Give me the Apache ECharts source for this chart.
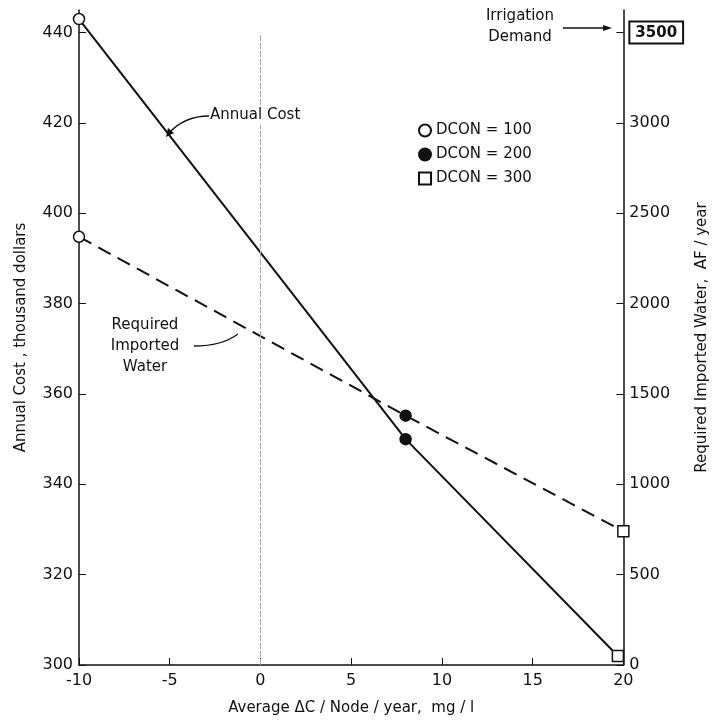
<!DOCTYPE html>
<html>
<head>
<meta charset="utf-8">
<script src="https://cdn.jsdelivr.net/npm/echarts@6/dist/echarts.min.js"></script>
<style>
  html, body { margin: 0; padding: 0; background: #fff; }
  #chart { width: 718px; height: 721px; }
</style>
</head>
<body>
<div id="chart"></div>
<script>
// values
const costX = [-10, 8, 19.7];
const annualCost = [443, 350, 302];        // thousand dollars
const waterX = [-10, 8, 20];
const importedWater = [2370, 1380, 740];   // AF / year
const dconNames = ['DCON = 100', 'DCON = 200', 'DCON = 300'];
const dconSymbols = ['circle', 'circle', 'rect'];
const dconFill = ['#fff', '#111', '#fff'];
const irrigationDemand = 3500;

const FONT = 'DejaVu Sans';
const INK = '#111';

const series = [
  {
    name: 'Annual Cost',
    type: 'line',
    yAxisIndex: 0,
    symbol: 'none',
    clip: false,
    lineStyle: { color: INK, width: 2 },
    data: costX.map((x, i) => [x, annualCost[i]]),
    markLine: {
      silent: true,
      symbol: 'none',
      label: { show: false },
      lineStyle: { color: '#aaa', width: 1, type: [6, 2] },
      data: [[{ coord: [0, 300] }, { coord: [0, 440] }]]
    }
  },
  {
    name: 'Required Imported Water',
    type: 'line',
    yAxisIndex: 1,
    symbol: 'none',
    clip: false,
    lineStyle: { color: INK, width: 2, type: [14, 8] },
    data: waterX.map((x, i) => [x, importedWater[i]])
  }
];

// markers: one series per DCON on each axis (same name -> one legend item)
dconNames.forEach((nm, i) => {
  const style = {
    type: 'scatter',
    name: nm,
    symbol: dconSymbols[i],
    symbolSize: 11,
    clip: false,
    z: 5,
    itemStyle: { color: dconFill[i], borderColor: INK, borderWidth: 1.5, opacity: 1 }
  };
  series.push(Object.assign({}, style, { yAxisIndex: 0, data: [[costX[i], annualCost[i]]] }));
  series.push(Object.assign({}, style, { yAxisIndex: 1, data: [[waterX[i], importedWater[i]]] }));
});

const option = {
  animation: false,
  backgroundColor: '#fff',
  textStyle: { fontFamily: FONT, color: INK },
  grid: { left: 79, right: 90, top: 10, bottom: 51 },
  legend: {
    data: dconNames,
    orient: 'vertical',
    left: 413,
    top: 118,
    itemGap: 9,
    itemWidth: 12,
    itemHeight: 12,
    selectedMode: false,
    textStyle: { fontFamily: FONT, fontSize: 15, color: INK }
  },
  xAxis: {
    type: 'value',
    min: -10,
    max: 20,
    interval: 5,
    name: 'Average \u0394C / Node / year,  mg / l',
    nameLocation: 'middle',
    nameGap: 36,
    nameTextStyle: { fontFamily: FONT, fontSize: 15, color: INK },
    axisLine: { show: true, onZero: false, lineStyle: { color: INK, width: 1.5 } },
    axisTick: { inside: true, length: 7, lineStyle: { color: INK } },
    axisLabel: { fontFamily: FONT, fontSize: 16, color: INK, margin: 8 },
    splitLine: { show: false }
  },
  yAxis: [
    {
      type: 'value',
      position: 'left',
      min: 300,
      max: 445,
      interval: 20,
      name: 'Annual Cost , thousand dollars',
      nameLocation: 'middle',
      nameGap: 50,
      nameTextStyle: { fontFamily: FONT, fontSize: 15, color: INK },
      axisLine: { show: true, onZero: false, lineStyle: { color: INK, width: 1.5 } },
      axisTick: { inside: true, length: 7, lineStyle: { color: INK } },
      axisLabel: { fontFamily: FONT, fontSize: 16, color: INK, margin: 6, showMaxLabel: false },
      splitLine: { show: false }
    },
    {
      type: 'value',
      position: 'right',
      min: 0,
      max: 3625,
      interval: 500,
      name: 'Required Imported Water,  AF / year',
      nameLocation: 'middle',
      nameGap: 66,
      nameRotate: 90,
      nameTextStyle: { fontFamily: FONT, fontSize: 15, color: INK },
      axisLine: { show: true, onZero: false, lineStyle: { color: INK, width: 1.5 } },
      axisTick: { inside: true, length: 7, lineStyle: { color: INK } },
      axisLabel: {
        fontFamily: FONT, fontSize: 16, color: INK, margin: 6, showMaxLabel: false,
        formatter: v => v === irrigationDemand ? '{box|' + v + '}' : String(v),
        rich: {
          box: {
            fontFamily: FONT, fontSize: 15, fontWeight: 'bold', color: INK,
            borderColor: INK, borderWidth: 2, padding: [4, 6, 3, 6]
          }
        }
      },
      splitLine: { show: false }
    }
  ],
  graphic: [
    // Annual Cost label + arrow
    {
      type: 'text', left: 208, top: 106, z: 10,
      style: { text: 'Annual Cost', font: '15px ' + FONT, fill: INK, backgroundColor: '#fff', padding: [2, 2] }
    },
    {
      type: 'bezierCurve', z: 10,
      shape: { x1: 209, y1: 116, cpx1: 184, cpy1: 116, x2: 168, y2: 134 },
      style: { stroke: INK, lineWidth: 1.3, fill: null }
    },
    {
      type: 'polygon', z: 10,
      shape: { points: [[166, 137], [168, 128], [174, 133]] },
      style: { fill: INK }
    },
    // Required Imported Water label + arrow
    {
      type: 'text', z: 10,
      style: { text: 'Required\nImported\nWater', x: 145, y: 315, font: '15px ' + FONT, fill: INK, align: 'center', verticalAlign: 'top', lineHeight: 21 }
    },
    {
      type: 'bezierCurve', z: 10,
      shape: { x1: 194, y1: 346, cpx1: 222, cpy1: 346, x2: 238, y2: 334 },
      style: { stroke: INK, lineWidth: 1.3, fill: null }
    },
    // Irrigation Demand label + arrow
    {
      type: 'text', z: 10,
      style: { text: 'Irrigation\nDemand', x: 520, y: 6, font: '15px ' + FONT, fill: INK, align: 'center', verticalAlign: 'top', lineHeight: 21 }
    },
    {
      type: 'line', z: 10,
      shape: { x1: 563, y1: 28, x2: 606, y2: 28 },
      style: { stroke: INK, lineWidth: 1.3 }
    },
    {
      type: 'polygon', z: 10,
      shape: { points: [[612, 28], [603, 25], [603, 31]] },
      style: { fill: INK }
    }
  ],
  series: series
};

const myChart = echarts.init(document.getElementById('chart'));
myChart.setOption(option);
window.addEventListener('resize', () => {
  myChart.resize();
});
</script>
</body>
</html>
